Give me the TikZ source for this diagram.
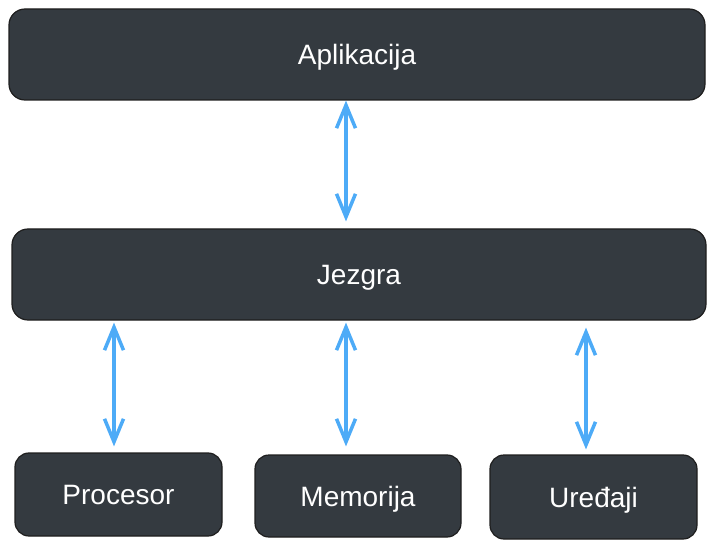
\documentclass[tikz,border=0pt]{standalone}
\usepackage{fontspec}
\setmainfont{Liberation Sans}
\usetikzlibrary{arrows.meta, positioning}
\definecolor{boxfill}{HTML}{343A40}
\definecolor{boxline}{HTML}{1E1E1E}
\definecolor{linkblue}{HTML}{4DABF7}

\begin{document}
\begin{tikzpicture}[
    x=1pt, y=-1pt,
    box/.style={rectangle, rounded corners=16pt, draw=boxline, line width=1.2pt,
                fill=boxfill, text=white, font=\fontsize{28}{32}\selectfont,
                inner sep=0pt, text height=20pt, text depth=0pt, align=center},
    small/.style={box, rounded corners=14pt},
    dblarrow/.style={{Straight Barb[length=23pt,width=19pt]}-{Straight Barb[length=23pt,width=19pt]},
                line width=3.5pt, draw=linkblue, line cap=round, line join=round}
  ]
    \useasboundingbox (0,0) rectangle (715,548);

    \node[box, minimum width=696pt, minimum height=91pt] (app)  at (357,54.5) {Aplikacija};
    \node[box, minimum width=694pt, minimum height=91pt] (core) at (359,274.5) {Jezgra};
    \node[small, minimum width=207pt, minimum height=83pt] (cpu) at (118.5,494.5) {Procesor};
    \node[small, minimum width=206pt, minimum height=82pt] (mem) at (358,496) {Memorija};
    \node[small, minimum width=207pt, minimum height=84pt] (dev) at (593.5,497) {Uređaji};

    \draw[dblarrow, shorten >=7pt] ([xshift=-11pt]app.south) -- ([xshift=-13pt]core.north);
    \draw[dblarrow, shorten <=2pt, shorten >=6pt] ([xshift=-245pt]core.south) -- ([xshift=-4.5pt]cpu.north);
    \draw[dblarrow, shorten <=2pt, shorten >=8pt] ([xshift=-13pt]core.south) -- ([xshift=-12pt]mem.north);
    \draw[dblarrow, shorten <=7pt, shorten >=5pt] ([xshift=227pt]core.south) -- ([xshift=-7.5pt]dev.north);
  \end{tikzpicture}
\end{document}
